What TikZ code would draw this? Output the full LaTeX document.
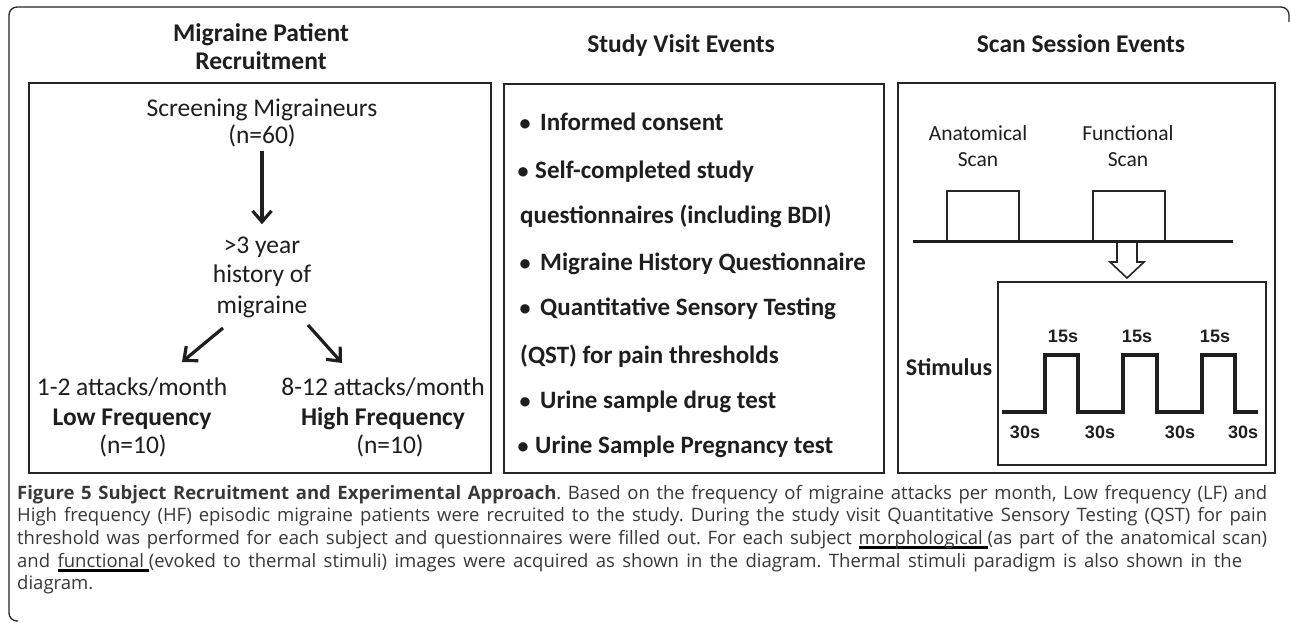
\documentclass[tikz,border=0pt]{standalone}
\usepackage{fontspec}
\setmainfont{Carlito}
\newfontfamily\capfont{Open Sans}
\newfontfamily\arialfont{Liberation Sans}
\usetikzlibrary{arrows.meta}
\definecolor{ink}{HTML}{1E1E1E}
\definecolor{capink}{HTML}{383838}
\definecolor{frame}{HTML}{262626}
\frenchspacing
\newcommand\thickul[1]{\setbox0\hbox{#1}\rlap{\color{black}\rule[-4.5pt]{\wd0}{2.3pt}}\box0}
\newcommand\capline[1]{\makebox[1250pt][s]{#1}}
\begin{document}
\begin{tikzpicture}[x=1pt,y=-1pt,
  txt/.style={inner sep=0pt, anchor=base, text=ink},
  ttl/.style={txt, font=\fontsize{25.5}{25.5}\selectfont\bfseries},
  ptxt/.style={txt, font=\fontsize{25.5}{25.5}\selectfont},
  pbold/.style={txt, font=\fontsize{25.5}{25.5}\selectfont\bfseries},
  btxt/.style={inner sep=0pt, anchor=base west, text=ink, font=\fontsize{25}{25}\selectfont\bfseries},
  bul/.style={inner sep=0pt, anchor=base, text=ink, font=\fontsize{22}{22}\selectfont\bfseries},
  stxt/.style={txt, font=\fontsize{21.5}{21.5}\selectfont},
  sbold/.style={txt, font=\fontsize{24}{24}\selectfont\bfseries},
  secs/.style={txt, font=\arialfont\fontsize{18}{18}\selectfont\bfseries},
  captxt/.style={inner sep=0pt, anchor=base west, text=capink, font=\capfont\fontsize{18.5}{18.5}\selectfont},
  panel/.style={draw=frame, line width=2.2pt},
  arr/.style={draw=ink, line width=3.2pt, -{Straight Barb[length=11pt,width=19pt,line width=3.2pt]}}]
\useasboundingbox (0,0) rectangle (1290,623);
\fill[white] (0,0) rectangle (1290,623);
% outer frame
\draw[draw=frame, line width=1.3pt, rounded corners=8pt] (18,621) -- (9,621) -- (9,7) -- (1289,7) -- (1289,22);
% panels
\draw[panel] (29,83) rectangle (491,473);
\draw[panel] (504,84) rectangle (884,473);
\draw[panel] (898,83) rectangle (1275,473);
% titles
\node[ttl] (t1a) at (261,42) {Migraine Patient};
\node[ttl] (t1b) at (261,70) {Recruitment};
\node[ttl] (t2) at (681,53) {Study Visit Events};
\node[ttl] (t3) at (1081,53) {Scan Session Events};
% panel 1
\node[ptxt] (scr) at (262,117) {Screening Migraineurs};
\node[ptxt] (n60) at (262,143) {(n=60)};
\node[ptxt] (yr) at (262,253) {>3 year};
\node[ptxt] (hist) at (262,282) {history of};
\node[ptxt] (mig) at (262,313) {migraine};
\draw[arr, shorten <=4pt, shorten >=12pt] (n60.south) -- (yr.north);
\coordinate (la) at (223,328);
\coordinate (lb) at (182,362);
\coordinate (ra) at (308,325);
\coordinate (rb) at (342,363);
\draw[arr] (la) -- (lb);
\draw[arr] (ra) -- (rb);
\node[ptxt] (lf1) at (132,395) {1-2 attacks/month};
\node[pbold] (lf2) at (132,425) {Low Frequency};
\node[ptxt] (lf3) at (133,453) {(n=10)};
\node[ptxt] (hf1) at (383,395) {8-12 attacks/month};
\node[pbold] (hf2) at (383,425) {High Frequency};
\node[ptxt] (hf3) at (390,453) {(n=10)};
% panel 2
\node[bul] (b1) at (525,131) {•};
\node[btxt] (s1) at (540,131) {Informed consent};
\node[bul] (b2) at (523,178) {•};
\node[btxt] (s2) at (535,178) {Self-completed study};
\node[btxt] (s2b) at (520,223) {questionnaires (including BDI)};
\node[bul] (b3) at (525,270) {•};
\node[btxt] (s3) at (540,270) {Migraine History Questionnaire};
\node[bul] (b4) at (525,315) {•};
\node[btxt] (s4) at (540,315) {Quantitative Sensory Testing};
\node[btxt] (s4b) at (520,363) {(QST) for pain thresholds};
\node[bul] (b5) at (525,408) {•};
\node[btxt] (s5) at (540,408) {Urine sample drug test};
\node[bul] (b6) at (523,453) {•};
\node[btxt] (s6) at (535,453) {Urine Sample Pregnancy test};
% panel 3
\node[stxt] (an1) at (978,140) {Anatomical};
\node[stxt] (an2) at (978,166) {Scan};
\node[stxt] (fu1) at (1128,140) {Functional};
\node[stxt] (fu2) at (1128,166) {Scan};
\draw[draw=frame, line width=1.6pt] (947,241) -- (947,191) -- (1019,191) -- (1019,241);
\draw[draw=frame, line width=1.6pt] (1093,241) -- (1093,191) -- (1165,191) -- (1165,241);
\draw[draw=ink, line width=3pt] (913,241) -- (1233,241);
\draw[draw=frame, line width=1.6pt, fill=white, line join=miter] (1117,243) -- (1117,262) -- (1110,262) -- (1127,278) -- (1144,262) -- (1137,262) -- (1137,243);
\draw[draw=frame, line width=1.6pt] (998,282) rectangle (1266,465);
\node[sbold] (stim) at (949,375) {Stimulus};
\draw[draw=ink, line width=4pt, line join=miter] (1002,412) -- (1045,412) -- (1045,355) -- (1078,355) -- (1078,412) -- (1123,412) -- (1123,355) -- (1157,355) -- (1157,412) -- (1202,412) -- (1202,355) -- (1235,355) -- (1235,412) -- (1258,412);
\node[secs] (h1) at (1063,342) {15s};
\node[secs] (h2) at (1137,342) {15s};
\node[secs] (h3) at (1215,342) {15s};
\node[secs] (l1) at (1025,438) {30s};
\node[secs] (l2) at (1100,438) {30s};
\node[secs] (l3) at (1180,438) {30s};
\node[secs] (l4) at (1243,438) {30s};
% caption
\node[captxt] (c1) at (17,499) {\capline{{\bfseries Figure 5 Subject Recruitment and Experimental Approach}. Based on the frequency of migraine attacks per month, Low frequency (LF) and}};
\node[captxt] (c2) at (17,521) {\capline{High frequency (HF) episodic migraine patients were recruited to the study. During the study visit Quantitative Sensory Testing (QST) for pain}};
\node[captxt] (c3) at (17,544) {\capline{threshold was performed for each subject and questionnaires were filled out. For each subject \thickul{morphological\ }(as part of the anatomical scan)}};
\node[captxt] (c4) at (17,567) {\makebox[1225pt][s]{and \thickul{functional\ }(evoked to thermal stimuli) images were acquired as shown in the diagram. Thermal stimuli paradigm is also shown in the}};
\node[captxt] (c5) at (17,589) {diagram.};
\end{tikzpicture}
\end{document}
